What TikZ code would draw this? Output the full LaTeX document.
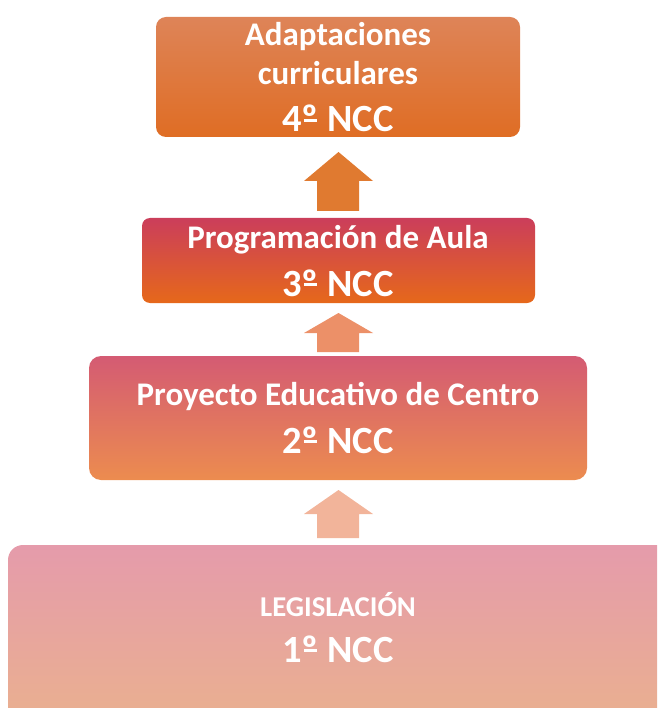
\documentclass[tikz,border=0pt]{standalone}
\usepackage{fontspec}
\setmainfont{Carlito}
\newcommand{\ordo}{{\setbox0\hbox{º}\rlap{\hspace{0.12\wd0}\raisebox{0.27em}{\rule{0.76\wd0}{0.055em}}}\box0}}
\begin{document}
\begin{tikzpicture}[x=1pt,y=-1pt,
  box/.style={inner sep=0pt,outer sep=0pt,anchor=north west},
  lbl/.style={anchor=base,text=white,font=\bfseries,inner sep=0pt},
  big/.style={lbl,font=\bfseries\fontsize{38.5}{40}\selectfont},
  mid/.style={lbl,font=\bfseries\fontsize{33}{36}\selectfont}]
\useasboundingbox (0,0) rectangle (657,708);
\clip (0,0) rectangle (657,708);
\definecolor{c4t}{HTML}{DE8458}\definecolor{c4b}{HTML}{DF6D24}
\definecolor{c3t}{HTML}{CB3E5B}\definecolor{c3b}{HTML}{E6681A}
\definecolor{c2t}{HTML}{D45B73}\definecolor{c2b}{HTML}{EC8C4F}
\definecolor{c1t}{HTML}{E59BAB}\definecolor{c1b}{HTML}{EAB18E}
\definecolor{a1}{HTML}{E07A30}\definecolor{a2}{HTML}{EC9068}\definecolor{a3}{HTML}{F2B49A}
% boxes
\shade[top color=c4t,bottom color=c4b,rounded corners=10pt] (156,17) rectangle (520,137);
\node[box,minimum width=364pt,minimum height=120pt] (b4) at (156,17) {};
\shade[top color=c3t,bottom color=c3b,rounded corners=8pt] (142,218) rectangle (535,303);
\node[box,minimum width=393pt,minimum height=85pt] (b3) at (142,218) {};
\shade[top color=c2t,bottom color=c2b,rounded corners=12pt] (89,356) rectangle (587,480);
\node[box,minimum width=498pt,minimum height=124pt] (b2) at (89,356) {};
\shade[top color=c1t,bottom color=c1b,rounded corners=15pt] (8,545) rectangle (680,730);
\node[box,minimum width=672pt,minimum height=185pt] (b1) at (8,545) {};
% arrows
\fill[a1] (317,211) -- (317,181) -- (304,181) -- (338.5,152) -- (373,181) -- (359,181) -- (359,211) -- cycle;
\fill[a2] (317,352) -- (317,333) -- (304,333) -- (338.5,313) -- (373,333) -- (359,333) -- (359,352) -- cycle;
\fill[a3] (317,538) -- (317,514) -- (304,514) -- (338.5,490) -- (373,514) -- (359,514) -- (359,538) -- cycle;
% texts
\node[mid] (t4a) at (338,46) {Adaptaciones};
\node[mid] (t4b) at (338,85) {curriculares};
\node[big] (t4c) at (338,132) {4\ordo{} NCC};
\node[mid] (t3a) at (338,249) {Programación de Aula};
\node[big] (t3b) at (338,296) {3\ordo{} NCC};
\node[mid] (t2a) at (338,405) {Proyecto Educativo de Centro};
\node[big] (t2b) at (338,453) {2\ordo{} NCC};
\node[lbl,font=\bfseries\fontsize{28.7}{30}\selectfont] (t1a) at (338,616) {LEGISLACIÓN};
\node[big] (t1b) at (338,662) {1\ordo{} NCC};
\end{tikzpicture}
\end{document}
